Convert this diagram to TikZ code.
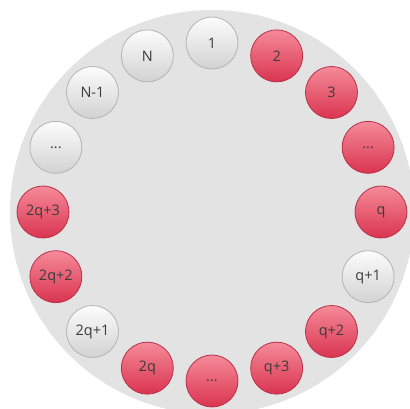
\documentclass[tikz,border=0pt]{standalone}
\usepackage{fontspec}
\setmainfont{Open Sans}
\usepackage{xcolor}
\definecolor{cRing}{HTML}{E3E3E3}
\definecolor{cText}{HTML}{3C3C3C}
\definecolor{cRedTop}{HTML}{F58A98}
\definecolor{cRedBot}{HTML}{DA3450}
\definecolor{cRedEdge}{HTML}{B8304A}
\definecolor{cWhiteTop}{HTML}{FCFCFC}
\definecolor{cWhiteBot}{HTML}{D2D2D2}
\definecolor{cWhiteEdge}{HTML}{B4B4B4}
\usetikzlibrary{positioning}
\newcommand{\rdots}{...}
\tikzset{
  ball/.style={circle,minimum size=52pt,inner sep=0pt,line width=0.8pt,
    font=\fontsize{14.5}{16}\selectfont,text=cText},
  ball-red/.style={ball,draw=cRedEdge,top color=cRedTop,bottom color=cRedBot},
  ball-white/.style={ball,draw=cWhiteEdge,top color=cWhiteTop,bottom color=cWhiteBot},
}

\begin{document}
\begin{tikzpicture}[x=1pt,y=1pt]
  \useasboundingbox (0,0) rectangle (410,408);
  \coordinate (ctr) at (212,196);
  \fill[cRing] (ctr) circle (202);
  % ring of nodes, clockwise from the top
  \foreach \name/\lbl/\ang/\kind in {n1/1/90/white, n2/2/67.5/red, n3/3/45/red,
      dotsA/\rdots/22.5/red, nq/q/0/red, nq1/q+1/-22.5/white, nq2/q+2/-45/red,
      nq3/q+3/-67.5/red, dotsB/\rdots/-90/red, n2q/2q/-112.5/red,
      n2q1/2q+1/-135/white, n2q2/2q+2/-157.5/red, n2q3/2q+3/-180/red,
      dotsC/\rdots/-202.5/white, nN1/N-1/-225/white, nN/N/-247.5/white} {
    \node[ball-\kind] (\name) at ([shift={(\ang:169)}]ctr) {\lbl};
  }
\end{tikzpicture}
\end{document}
